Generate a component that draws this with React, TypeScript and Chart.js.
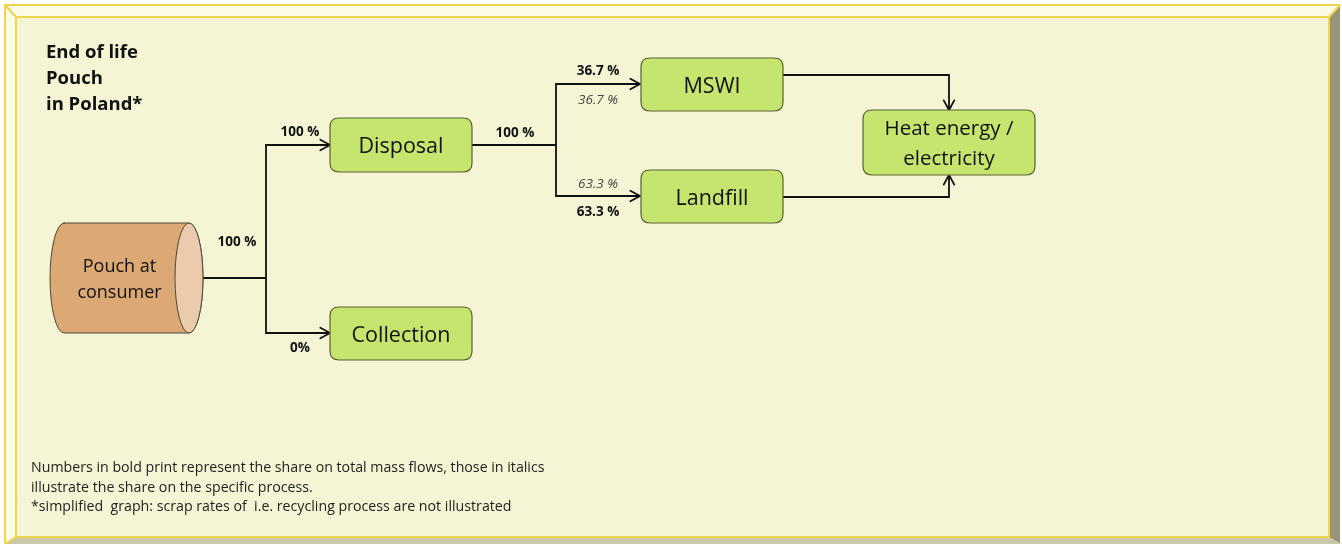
import React, { useEffect, useRef } from "react";
import { Chart, registerables } from "chart.js";

Chart.register(...registerables);

// ---------- DATA ----------
const titleLines = ["End of life", "Pouch", "in Poland*"];
const nodeNames = [
  "Pouch at\nconsumer",
  "Disposal",
  "Collection",
  "MSWI",
  "Landfill",
  "Heat energy /\nelectricity",
];
// shares on total mass flow (bold)
const totalShareLabels = ["100 %", "100 %", "0%", "100 %", "36.7 %", "63.3 %"];
// shares on the specific process (italic)
const processShareLabels = ["36.7 %", "63.3 %"];
const footnoteLines = [
  "Numbers in bold print represent the share on total mass flows, those in italics",
  "illustrate the share on the specific process.",
  "*simplified  graph: scrap rates of  i.e. recycling process are not illustrated",
];

// ---------- LAYOUT (diagram coordinates) ----------
const W = 1342;
const H = 544;
const FONT = '"Open Sans", "Noto Sans", sans-serif';

const nodeBoxes = [
  { x0: 50, y0: 223, x1: 203, y1: 333, cyl: true, fs: 18 },
  { x0: 330, y0: 118, x1: 472, y1: 172, fs: 21.5 },
  { x0: 330, y0: 307, x1: 472, y1: 360, fs: 21.5 },
  { x0: 641, y0: 58, x1: 783, y1: 111, fs: 21.5 },
  { x0: 641, y0: 170, x1: 783, y1: 223, fs: 21.5 },
  { x0: 863, y0: 110, x1: 1035, y1: 175, fs: 20.5 },
];

const connectors = [
  { pts: [[203, 278], [266, 278]], arrow: false },
  { pts: [[266, 278], [266, 145], [330, 145]], arrow: true },
  { pts: [[266, 278], [266, 333], [330, 333]], arrow: true },
  { pts: [[472, 145], [556, 145]], arrow: false },
  { pts: [[556, 145], [556, 84], [640, 84]], arrow: true },
  { pts: [[556, 145], [556, 196], [640, 196]], arrow: true },
  { pts: [[783, 75], [949, 75], [949, 110]], arrow: true },
  { pts: [[783, 197], [949, 197], [949, 175]], arrow: true },
];

const boldLabelPos = [
  [237, 242],
  [300, 132],
  [300, 348],
  [515, 133],
  [598, 71],
  [598, 212],
];
const italicLabelPos = [
  [598, 100],
  [598, 184],
];

const titlePos = { x: 46, y: 53, lh: 26 };
const footPos = { x: 31, y: 468, lh: 19.5 };

function roundRect(ctx: CanvasRenderingContext2D, x: number, y: number, w: number, h: number, r: number) {
  ctx.beginPath();
  ctx.moveTo(x + r, y);
  ctx.lineTo(x + w - r, y);
  ctx.quadraticCurveTo(x + w, y, x + w, y + r);
  ctx.lineTo(x + w, y + h - r);
  ctx.quadraticCurveTo(x + w, y + h, x + w - r, y + h);
  ctx.lineTo(x + r, y + h);
  ctx.quadraticCurveTo(x, y + h, x, y + h - r);
  ctx.lineTo(x, y + r);
  ctx.quadraticCurveTo(x, y, x + r, y);
  ctx.closePath();
}

const diagramPlugin = {
  id: "diagram",
  beforeDatasetsDraw(chart: any) {
    const ctx: CanvasRenderingContext2D = chart.ctx;
    const X = (v: number) => chart.scales.x.getPixelForValue(v);
    const Y = (v: number) => chart.scales.y.getPixelForValue(v);
    ctx.save();
    ctx.fillStyle = "#ffffff";
    ctx.fillRect(0, 0, chart.width, chart.height);
    const o = { l: X(5), t: Y(5), r: X(1342), b: Y(544) };
    const i = { l: X(16), t: Y(17), r: X(1329), b: Y(537) };
    const poly = (pts: number[][], fill: string) => {
      ctx.beginPath();
      ctx.moveTo(pts[0][0], pts[0][1]);
      for (let k = 1; k < pts.length; k++) ctx.lineTo(pts[k][0], pts[k][1]);
      ctx.closePath();
      ctx.fillStyle = fill;
      ctx.fill();
    };
    poly([[o.l, o.t], [o.r, o.t], [i.r, i.t], [i.l, i.t]], "#fbfbe6");
    poly([[o.l, o.t], [i.l, i.t], [i.l, i.b], [o.l, o.b]], "#fbfbe6");
    poly([[o.r - 2, o.t], [o.r - 2, o.b], [i.r, i.b], [i.r, i.t]], "#979479");
    poly([[o.l, o.b], [o.r, o.b], [i.r, i.b], [i.l, i.b]], "#c9c8a9");
    ctx.fillStyle = "#f5f5d5";
    ctx.fillRect(i.l, i.t, i.r - i.l, i.b - i.t);
    ctx.strokeStyle = "#f0d44c";
    ctx.lineWidth = 2;
    ctx.strokeRect(i.l, i.t, i.r - i.l, i.b - i.t);
    ctx.beginPath();
    ctx.moveTo(o.l, o.b);
    ctx.lineTo(o.l, o.t);
    ctx.lineTo(o.r - 2, o.t);
    ctx.moveTo(o.l, o.t);
    ctx.lineTo(i.l, i.t);
    ctx.moveTo(o.r - 2, o.t);
    ctx.lineTo(i.r, i.t);
    ctx.moveTo(o.l, o.b);
    ctx.lineTo(i.l, i.b);
    ctx.stroke();
    ctx.restore();
  },
  afterDatasetsDraw(chart: any) {
    const ctx: CanvasRenderingContext2D = chart.ctx;
    const X = (v: number) => chart.scales.x.getPixelForValue(v);
    const Y = (v: number) => chart.scales.y.getPixelForValue(v);
    ctx.save();

    // arrowheads
    ctx.strokeStyle = "#111111";
    ctx.lineWidth = 1.8;
    ctx.lineCap = "round";
    ctx.lineJoin = "round";
    connectors.forEach((c) => {
      if (!c.arrow) return;
      const n = c.pts.length;
      const [ax, ay] = c.pts[n - 2];
      const [bx, by] = c.pts[n - 1];
      const px = X(bx), py = Y(by);
      const ang = Math.atan2(Y(by) - Y(ay), X(bx) - X(ax));
      const len = 11;
      const spread = 0.5;
      ctx.beginPath();
      ctx.moveTo(px - len * Math.cos(ang - spread), py - len * Math.sin(ang - spread));
      ctx.lineTo(px, py);
      ctx.lineTo(px - len * Math.cos(ang + spread), py - len * Math.sin(ang + spread));
      ctx.stroke();
    });

    // nodes
    nodeBoxes.forEach((b, idx) => {
      const x0 = X(b.x0), x1 = X(b.x1), y0 = Y(b.y0), y1 = Y(b.y1);
      let cx = (x0 + x1) / 2;
      const cy = (y0 + y1) / 2;
      if (b.cyl) {
        const rx = 14;
        const ry = (y1 - y0) / 2;
        const lc = x0 + rx;
        const rc = x1 - rx;
        ctx.beginPath();
        ctx.moveTo(lc, y0);
        ctx.lineTo(rc, y0);
        ctx.ellipse(rc, cy, rx, ry, 0, -Math.PI / 2, Math.PI / 2);
        ctx.lineTo(lc, y1);
        ctx.ellipse(lc, cy, rx, ry, 0, Math.PI / 2, (3 * Math.PI) / 2);
        ctx.closePath();
        ctx.fillStyle = "#dca874";
        ctx.fill();
        ctx.strokeStyle = "#4a4a3a";
        ctx.lineWidth = 1;
        ctx.stroke();
        ctx.beginPath();
        ctx.ellipse(rc, cy, rx, ry, 0, 0, Math.PI * 2);
        ctx.fillStyle = "#ebcbab";
        ctx.fill();
        ctx.stroke();
        cx = (x0 + rc) / 2;
      } else {
        roundRect(ctx, x0, y0, x1 - x0, y1 - y0, 9);
        ctx.fillStyle = "#c6e56e";
        ctx.fill();
        ctx.strokeStyle = "#56622e";
        ctx.lineWidth = 1.2;
        ctx.stroke();
      }
      const lines = nodeNames[idx].split("\n");
      ctx.fillStyle = "#111111";
      ctx.font = `${b.fs}px ${FONT}`;
      ctx.textAlign = "center";
      ctx.textBaseline = "middle";
      const lh = b.cyl ? 26 : 30;
      lines.forEach((t, k) => {
        const yy = cy + 2 + (k - (lines.length - 1) / 2) * lh;
        ctx.fillText(t, cx, yy);
      });
    });

    // flow labels
    ctx.textAlign = "center";
    ctx.textBaseline = "middle";
    ctx.fillStyle = "#111111";
    ctx.font = `bold 13.5px ${FONT}`;
    totalShareLabels.forEach((t, k) => {
      ctx.fillText(t, X(boldLabelPos[k][0]), Y(boldLabelPos[k][1]));
    });
    ctx.fillStyle = "#444444";
    ctx.font = `italic 13.5px ${FONT}`;
    processShareLabels.forEach((t, k) => {
      ctx.fillText(t, X(italicLabelPos[k][0]), Y(italicLabelPos[k][1]));
    });

    // title
    ctx.textAlign = "left";
    ctx.textBaseline = "middle";
    ctx.fillStyle = "#111111";
    ctx.font = `bold 18.5px ${FONT}`;
    titleLines.forEach((t, k) => {
      ctx.fillText(t, X(titlePos.x), Y(titlePos.y + k * titlePos.lh));
    });

    // footnote
    ctx.fillStyle = "#222222";
    ctx.font = `14.2px ${FONT}`;
    footnoteLines.forEach((t, k) => {
      ctx.fillText(t, X(footPos.x), Y(footPos.y + k * footPos.lh));
    });
    ctx.restore();
  },
};

export default function App() {
  const ref = useRef<HTMLCanvasElement | null>(null);
  useEffect(() => {
    if (!ref.current) return;
    const datasets = connectors.map((c) => ({
      data: c.pts.map(([x, y]) => ({ x, y })),
      showLine: true,
      borderColor: "#111111",
      borderWidth: 1.8,
      pointRadius: 0,
      tension: 0,
      fill: false,
    }));
    const chart = new Chart(ref.current, {
      type: "scatter",
      data: { datasets },
      options: {
        animation: false,
        responsive: false,
        events: [],
        layout: { padding: 0 },
        plugins: { legend: { display: false }, tooltip: { enabled: false } },
        scales: {
          x: { type: "linear", min: 0, max: W, display: false },
          y: { type: "linear", min: 0, max: H, reverse: true, display: false },
        },
      },
      plugins: [diagramPlugin],
    } as any);
    return () => chart.destroy();
  }, []);
  return (
    <div style={{ position: "absolute", left: 0, top: 0, width: W, height: H }}>
      <canvas ref={ref} width={W} height={H} style={{ display: "block" }} />
    </div>
  );
}
